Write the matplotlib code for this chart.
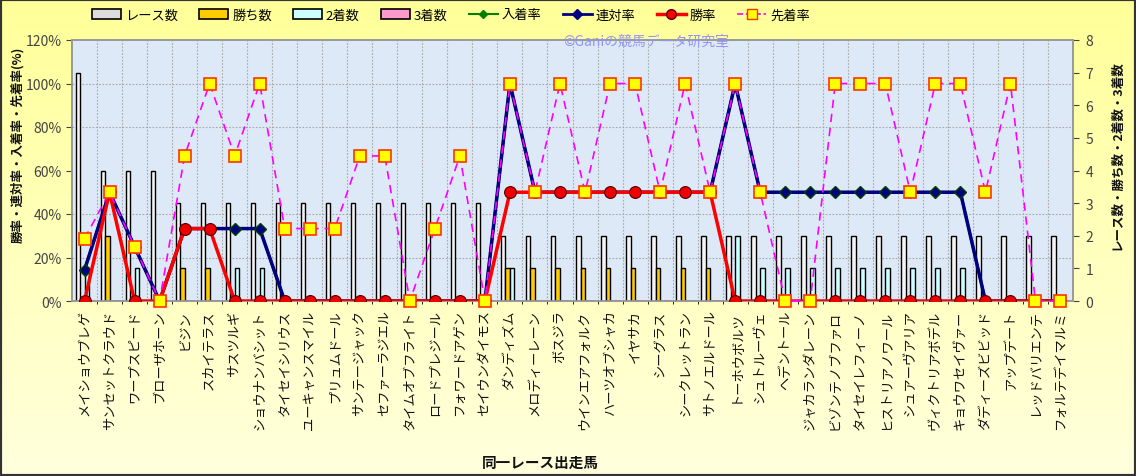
import numpy as np
import matplotlib
matplotlib.use("Agg")
import matplotlib.pyplot as plt
from matplotlib.patches import Patch, Rectangle
from matplotlib.lines import Line2D
from matplotlib.ticker import FuncFormatter, FixedLocator
from matplotlib.colors import LinearSegmentedColormap

plt.rcParams['font.family'] = ['Noto Sans CJK JP', 'DejaVu Sans']

horses = ["メイショウブレゲ", "サンセットクラウド", "ワープスピード", "ブローザホーン", "ビジン",
          "スカイテラス", "サスツルギ", "ショウナンバシット", "タイセイシリウス", "ユーキャンスマイル",
          "プリュムドール", "サンテージャック", "セファーラジエル", "タイムオブフライト", "ロードプレジール",
          "フォワードアゲン", "セイウンダイモス", "ダンディズム", "メロディーレーン", "ボスジラ",
          "ウインエアフォルク", "ハーツオブシャカ", "イヤサカ", "シーグラス", "シークレットラン",
          "サトノエルドール", "トーホウボルツ", "シュトルーヴェ", "ヘデントール", "ジャカランダレーン",
          "ビゾンテノブファロ", "タイセイレフィーノ", "ヒストリアノワール", "シュアーヴアリア", "ヴィクトリアボデル",
          "キョウワセイヴァー", "ダディーズビビッド", "アップデート", "レッドバリエンテ", "フォルテデイマルミ"]

races = [7, 4, 4, 4, 3, 3, 3, 3, 3, 3, 3, 3, 3, 3, 3, 3, 3, 2, 2, 2,
         2, 2, 2, 2, 2, 2, 2, 2, 2, 2, 2, 2, 2, 2, 2, 2, 2, 2, 2, 2]
wins = [0, 2, 0, 0, 1, 1, 0, 0, 0, 0, 0, 0, 0, 0, 0, 0, 0, 1, 1, 1,
        1, 1, 1, 1, 1, 1, 0, 0, 0, 0, 0, 0, 0, 0, 0, 0, 0, 0, 0, 0]
seconds = [1, 0, 1, 0, 0, 0, 1, 1, 0, 0, 0, 0, 0, 0, 0, 0, 0, 1, 0, 0,
           0, 0, 0, 0, 0, 0, 2, 1, 1, 1, 1, 1, 1, 1, 1, 1, 0, 0, 0, 0]
thirds = [0] * 40

win_rate = [0, 50, 0, 0, 33.3, 33.3, 0, 0, 0, 0, 0, 0, 0, 0, 0, 0, 0, 50, 50, 50,
            50, 50, 50, 50, 50, 50, 0, 0, 0, 0, 0, 0, 0, 0, 0, 0, 0, 0, 0, 0]
rentai_rate = [14.3, 50, 25, 0, 33.3, 33.3, 33.3, 33.3, 0, 0, 0, 0, 0, 0, 0, 0, 0, 100, 50, 50,
               50, 50, 50, 50, 50, 50, 100, 50, 50, 50, 50, 50, 50, 50, 50, 50, 0, 0, 0, 0]
nyuchaku_rate = [14.3, 50, 25, 0, 33.3, 33.3, 33.3, 33.3, 0, 0, 0, 0, 0, 0, 0, 0, 0, 100, 50, 50,
                 50, 50, 50, 50, 50, 50, 100, 50, 50, 50, 50, 50, 50, 50, 50, 50, 0, 0, 0, 0]
senchaku_rate = [28.6, 50, 25, 0, 66.7, 100, 66.7, 100, 33.3, 33.3, 33.3, 66.7, 66.7, 0, 33.3, 66.7, 0, 100, 50, 100,
                 50, 100, 100, 50, 100, 50, 100, 50, 0, 0, 100, 100, 100, 50, 100, 100, 50, 100, 0, 0]

W, H = 1136, 477
fig = plt.figure(figsize=(W / 100, H / 100), dpi=100)

# figure background gradient
bg = fig.add_axes([0, 0, 1, 1], zorder=-10)
grad = np.linspace(0, 1, 256).reshape(-1, 1)
cm = LinearSegmentedColormap.from_list("y", ["#FFFF99", "#FFFFDD"])
bg.imshow(grad, aspect='auto', cmap=cm, extent=[0, 1, 0, 1])
bg.set_axis_off()

l, r, b, t = 72 / W, 1073 / W, 1 - 302 / H, 1 - 41 / H
ax2 = fig.add_axes([l, b, r - l, t - b])            # counts (bars, background)
ax = fig.add_axes([l, b, r - l, t - b], sharex=ax2)  # percentages (lines)
ax.set_zorder(ax2.get_zorder() + 1)
ax.patch.set_visible(False)

x = np.arange(len(horses))
bw = 0.18
ax2.set_facecolor("#DDE9F7")
ax2.bar(x - 1.5 * bw, races, bw, color="#F4F4F4", edgecolor="black", linewidth=1.0, zorder=3)
ax2.bar(x - 0.5 * bw, wins, bw, color="#FFCC00", edgecolor="black", linewidth=1.0, zorder=3)
ax2.bar(x + 0.5 * bw, seconds, bw, color="#CCFFFF", edgecolor="black", linewidth=1.0, zorder=3)
ax2.bar(x + 1.5 * bw, thirds, bw, color="#FF99CC", edgecolor="black", linewidth=1.0, zorder=3)

ax2.set_ylim(0, 8)
ax2.set_xlim(-0.5, len(horses) - 0.5)
ax2.yaxis.tick_right()
ax2.set_yticks(range(0, 9))
ax2.yaxis.set_minor_locator(FixedLocator([4 / 3, 8 / 3, 4, 16 / 3, 20 / 3]))
ax2.xaxis.set_minor_locator(FixedLocator(np.arange(0.5, len(horses) - 0.5, 1)))
ax2.grid(True, which='minor', color="#A8A8A8", linestyle=(0, (1.5, 1.5)), linewidth=0.8, zorder=1)
ax2.set_axisbelow(True)
ax2.tick_params(axis='y', which='minor', length=0)
ax2.tick_params(axis='x', which='both', length=0, labelbottom=False)
ax2.tick_params(axis='y', which='major', colors="#444444", labelsize=10, length=4, direction='out', pad=5)

# lines
ax.plot(x, nyuchaku_rate, color="#008000", lw=2, marker='D', ms=4, zorder=4)
ax.plot(x, rentai_rate, color="#000080", lw=2.5, marker='D', ms=6.5, mec="#004000", zorder=5)
ax.plot(x, win_rate, color="#FF0000", lw=2.5, marker='o', ms=8.5, mfc="#EE0000", mec="#550000", mew=0.8, zorder=6)
ax.plot(x, senchaku_rate, color="#FF00FF", lw=1.2, linestyle=(0, (5, 3.5)), marker='s', ms=8,
        mfc="#FFFF00", mec="#FF3300", mew=1.2, zorder=7, clip_on=False)

ax.set_ylim(0, 120)
ax.set_yticks(range(0, 121, 20))
ax.yaxis.set_major_formatter(FuncFormatter(lambda v, p: f"{int(v)}%"))
ax.tick_params(axis='y', colors="#444444", labelsize=10, length=4, direction='out')
ax.set_xticks(x)
ax.set_xticklabels(horses, rotation=90, fontsize=9.5, color="#111111")
ax.tick_params(axis='x', length=0, pad=6)

for a in (ax, ax2):
    for s in a.spines.values():
        s.set_color("#999999")
        s.set_linewidth(1.2)

fig.text(18 / W, 1 - 145 / H, "勝率・連対率・入着率・先着率(%)", rotation=90, ha='center', va='center',
         fontsize=9, fontweight='bold', color="#111111")
fig.text(1117 / W, 1 - 155 / H, "レース数・勝ち数・2着数・3着数", rotation=90, ha='center', va='center',
         fontsize=9, fontweight='bold', color="#111111")
fig.text(540 / W, 1 - 463 / H, "同一レース出走馬", ha='center', va='center', fontsize=10.5, fontweight='bold',
         color="#111111")
fig.text(646 / W, 1 - 42 / H, "©Ganiの競馬データ研究室", ha='center', va='center', fontsize=10,
         color="#9494F0", zorder=20)

handles = [
    Patch(facecolor="#DDDDDD", edgecolor="black", linewidth=1.2, label="レース数"),
    Patch(facecolor="#FFCC00", edgecolor="black", linewidth=1.2, label="勝ち数"),
    Patch(facecolor="#CCFFFF", edgecolor="black", linewidth=1.2, label="2着数"),
    Patch(facecolor="#FF99CC", edgecolor="black", linewidth=1.2, label="3着数"),
    Line2D([], [], color="#008000", lw=1.5, marker='D', ms=4, label="入着率"),
    Line2D([], [], color="#000080", lw=2, marker='D', ms=5, label="連対率"),
    Line2D([], [], color="#FF0000", lw=2.5, marker='o', ms=7, mec="#550000", label="勝率"),
    Line2D([], [], color="#FF00FF", lw=1.2, linestyle='--', marker='s', ms=7, mfc="#FFFF00", mec="#FF3300",
           label="先着率"),
]
fig.legend(handles=handles, loc='center', bbox_to_anchor=(0.397, 1 - 16 / H), ncol=8, frameon=False,
           fontsize=9.5, handlelength=2.2, columnspacing=1.6, handletextpad=0.3)

fig.add_artist(Rectangle((0, 0), 1, 1, transform=fig.transFigure, fill=False, edgecolor="#333333", lw=3))

fig.savefig("out.png", dpi=100)
